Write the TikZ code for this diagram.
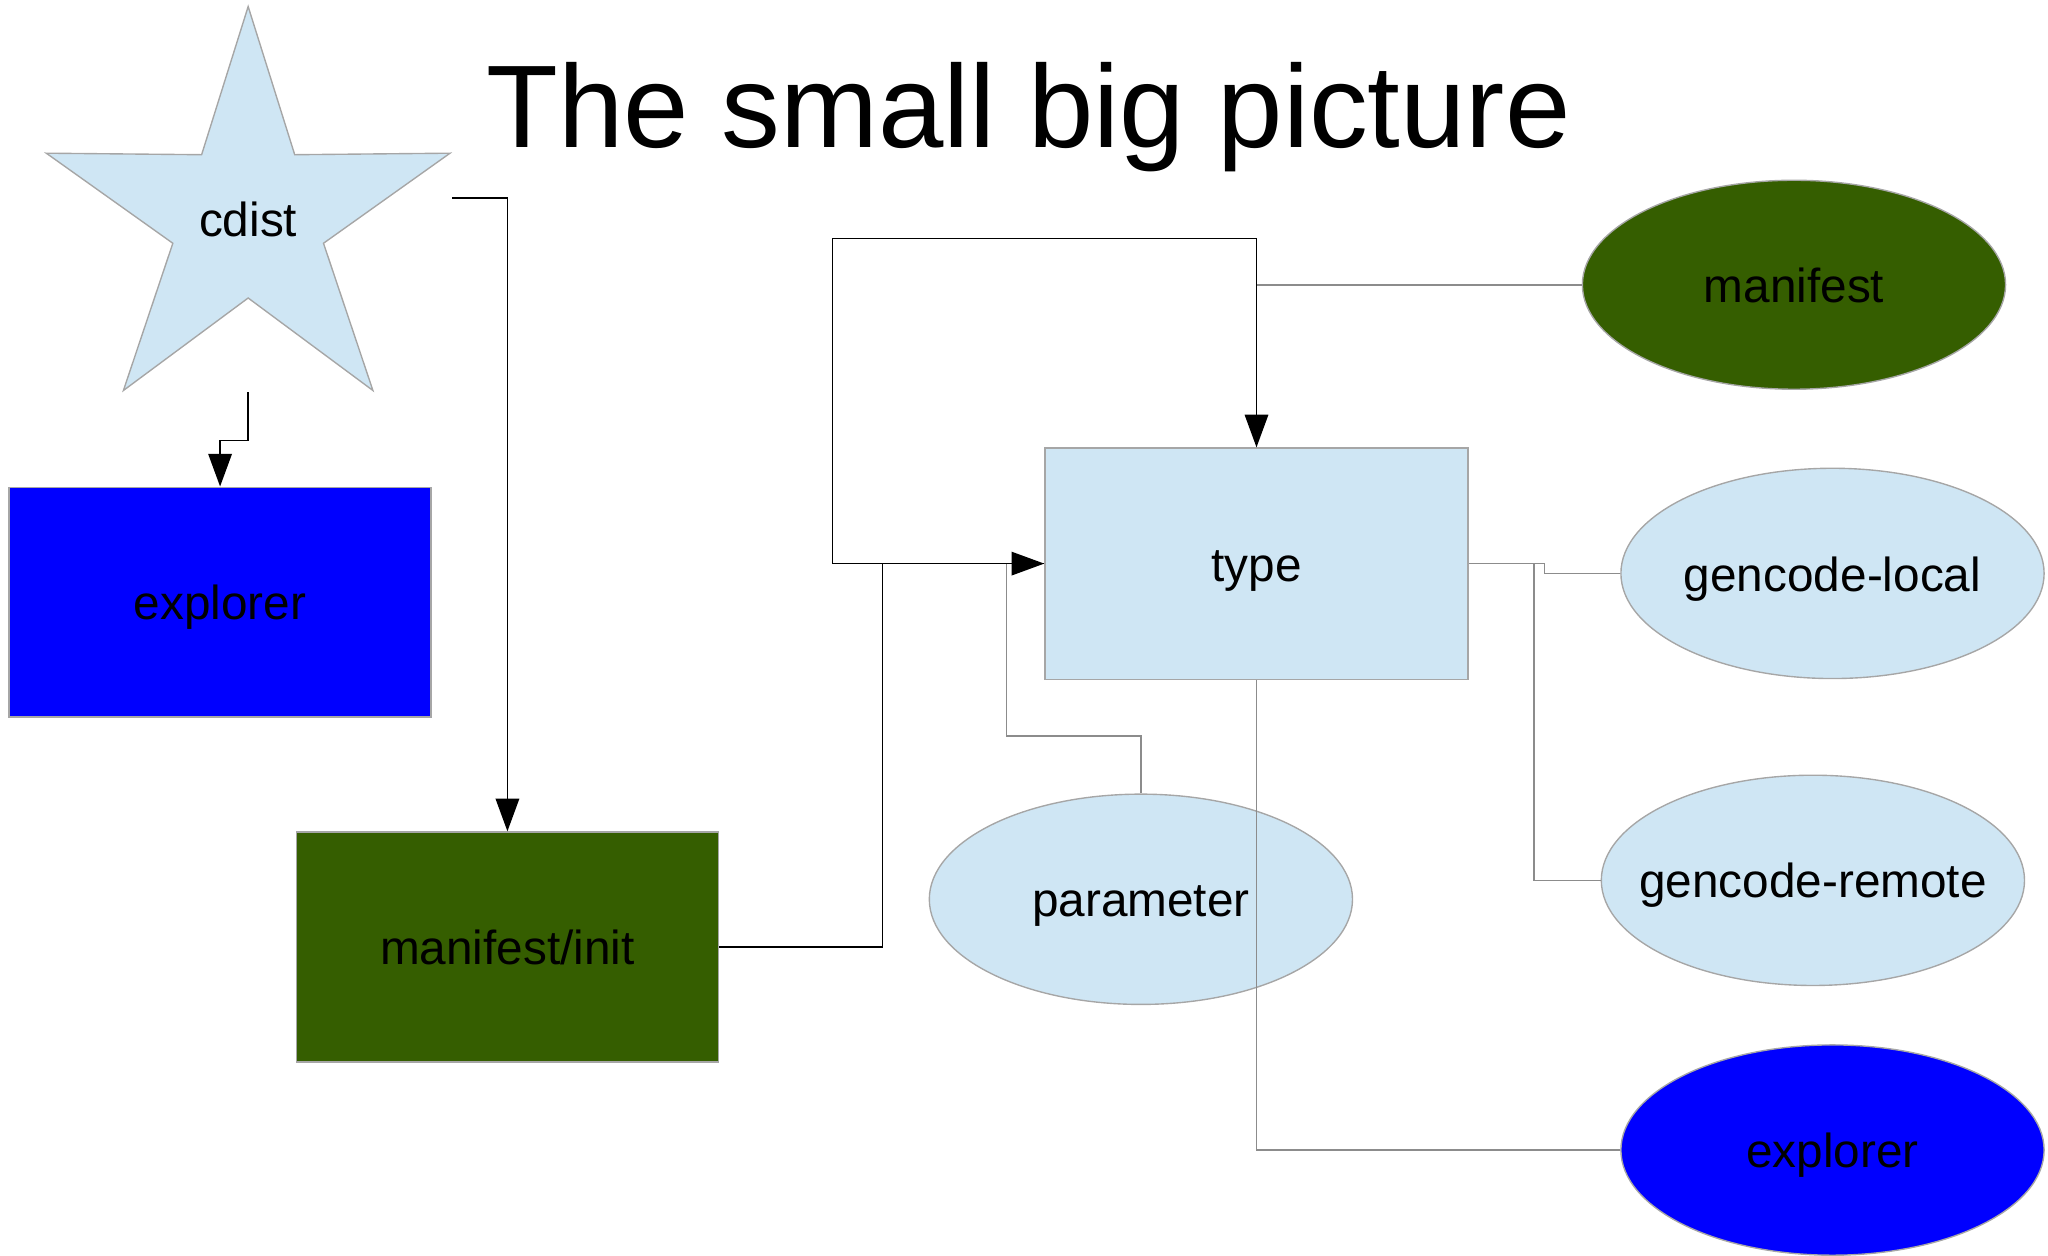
\documentclass[tikz,border=0pt]{standalone}
\usepackage{fontspec}
\setmainfont{Liberation Sans}
\usetikzlibrary{calc,shapes.geometric,arrows.meta}
\definecolor{paleblue}{HTML}{CFE6F4}
\definecolor{leafgreen}{HTML}{355E00}
\definecolor{linegray}{HTML}{8C8C8C}
\tikzset{
	box/.style={draw=gray!70, line width=0.3pt, inner sep=0pt, text height=0.35cm, text depth=0.08cm, font=\fontsize{10.4}{12}\selectfont},
	oval/.style={box, ellipse, inner xsep=-0.6cm, minimum width=3.24cm, minimum height=1.61cm},
	block/.style={box, rectangle, minimum width=3.23cm, minimum height=1.76cm},
	arr/.style={line width=0.35pt, -{Triangle[length=2.5mm, width=1.8mm]}},
	link/.style={line width=0.35pt, color=linegray}
}

\begin{document}
\begin{tikzpicture}
			%%%%% START %%%%%
			\useasboundingbox (0, 0) rectangle (15.68, -9.61);
			
			\node[anchor=base west, font=\fontsize{25.6}{30}\selectfont] (title) at (3.60, -1.13) {The small big picture};
			
			\node[box, star, star points=5, star point ratio=2.68, minimum size=3.25cm, fill=paleblue] (cdist) at (1.90, -1.675) {cdist};
			\coordinate (cdistmid) at ($(cdist.outer point 1)!0.5!(cdist.outer point 3)$);
			
			\node[block, fill=blue] (explorerbox) at (1.685, -4.61) {explorer};
			\node[block, fill=leafgreen] (init) at (3.885, -7.25) {manifest/init};
			\node[block, fill=paleblue, minimum width=3.24cm, minimum height=1.77cm] (type) at (9.62, -4.315) {type};
			
			\node[oval, fill=leafgreen, minimum height=1.60cm] (manifest) at (13.735, -2.18) {manifest};
			\node[oval, fill=paleblue] (local) at (14.03, -4.39) {gencode-local};
			\node[oval, fill=paleblue] (remote) at (13.88, -6.74) {gencode-remote};
			\node[oval, fill=blue] (explorer) at (14.03, -8.805) {explorer};
			\node[oval, fill=paleblue] (parameter) at (8.735, -6.885) {parameter};
			
			% grey links into type
			\draw[link] (manifest.west) -| (type.north);
			\draw[link] (local.west) -- ++(-0.58, 0) |- (type.east);
			\draw[link] (remote.west) -- ++(-0.51, 0) |- (type.east);
			\draw[link] (explorer.west) -| (type.south);
			\draw[link] (parameter.north) -- ++(0, 0.44) -| ($(type.west)+(-0.29, 0)$) -- (type.west);
			
			% arrows
			\draw[arr] (cdist.outer point 5 |- cdistmid) -| (init.north);
			\draw[arr] (cdist.center |- cdist.outer point 3) -- ++(0, -0.37) -| (explorerbox.north);
			\draw[arr] (init.east) -- ++(1.25, 0) |- (type.west);
			\draw[arr] (type.west) -- ++(-1.62, 0) |- ($(type.north)+(0, 1.60)$) -- (type.north);
			
			%%%%% END %%%%%
\end{tikzpicture}
\end{document}
